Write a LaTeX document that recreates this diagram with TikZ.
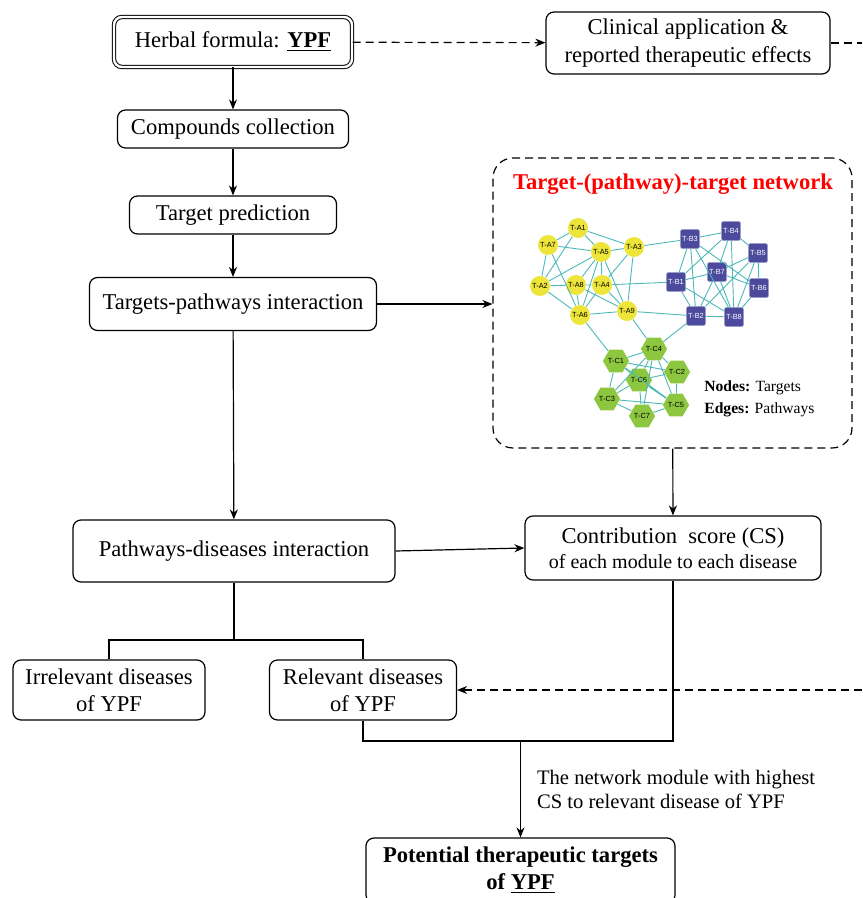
\documentclass[tikz,border=0pt]{standalone}
\usepackage{fontspec}
\setmainfont{Liberation Serif}
\newfontfamily\netfont{Liberation Sans}
\usetikzlibrary{arrows.meta, positioning, shapes.geometric}
\definecolor{netedge}{HTML}{4DB8B8}
\definecolor{ayel}{HTML}{EDE53A}
\definecolor{bblue}{HTML}{4B4A9C}
\definecolor{cgreen}{HTML}{8DC63F}
\definecolor{titlered}{HTML}{FF0000}

\begin{document}
\begin{tikzpicture}[x=0.5pt, y=-0.5pt,
      box/.style={draw, rounded corners=4pt, line width=0.6pt, align=center,
                  inner sep=1pt, font=\fontsize{11.3}{13.6}\selectfont},
      arr/.style={-{Stealth[length=5pt, width=4pt]}, line width=0.6pt},
      darr/.style={arr, dash pattern=on 4pt off 2.5pt},
      edge/.style={netedge, line width=0.45pt},
      ta/.style={circle, fill=ayel, minimum size=10pt, inner sep=0pt,
                 font=\netfont\fontsize{3.7}{4}\selectfont},
      tb/.style={rectangle, rounded corners=1pt, fill=bblue, draw=bblue!55!white,
                 line width=0.3pt, minimum size=9.5pt, inner sep=0pt, text=white,
                 font=\netfont\fontsize{3.7}{4}\selectfont},
      tc/.style={regular polygon, regular polygon sides=6, fill=cgreen,
                 minimum size=11.5pt, inner sep=0pt,
                 font=\netfont\fontsize{3.7}{4}\selectfont}]
    \useasboundingbox (0,0) rectangle (862,898);

    % main flow
    \node[box, double, line width=0.5pt, double distance=1.2pt,
          minimum width=119pt, minimum height=25pt] (herbal) at (233,42)
          {Herbal formula: \underline{\textbf{YPF}}};
    \node[box, minimum width=142pt, minimum height=31pt] (clin) at (688,43)
          {Clinical application \&\\reported therapeutic effects};
    \node[box, minimum width=115.5pt, minimum height=19pt] (comp) at (233,129)
          {Compounds collection};
    \node[box, minimum width=103.5pt, minimum height=19pt] (pred) at (233,215)
          {Target prediction};
    \node[box, minimum width=143.5pt, minimum height=26.5pt] (tpi) at (233,304)
          {Targets-pathways interaction};
    \node[box, minimum width=161pt, minimum height=31pt] (pdi) at (234,551)
          {Pathways-diseases interaction};
    \node[box, minimum width=148pt, minimum height=32pt] (cs) at (673,548)
          {Contribution~ score (CS)\\[-1pt]{\fontsize{10}{12}\selectfont of each module to each disease}};
    \node[box, minimum width=96pt, minimum height=30pt] (irr) at (109,690)
          {Irrelevant diseases\\of YPF};
    \node[box, minimum width=93.5pt, minimum height=30pt] (rel) at (363,690)
          {Relevant diseases\\of YPF};
    \node[box, minimum width=154.5pt, minimum height=32.5pt] (pot) at (520.5,870.5)
          {\textbf{Potential therapeutic targets}\\\textbf{of \underline{YPF}}};

    % network module box
    \node[draw, rounded corners=10pt, line width=0.6pt, dash pattern=on 4pt off 2.5pt,
          minimum width=179.5pt, minimum height=145pt] (net) at (672.5,303) {};
    \node[text=titlered, font=\bfseries\fontsize{11.3}{12}\selectfont] (nettitle) at (673,184)
          {Target-(pathway)-target network};
    \node[anchor=west, align=left, inner sep=0pt, font=\fontsize{7.8}{11}\selectfont] (legend) at (704,399)
          {\textbf{Nodes:} Targets\\\textbf{Edges:} Pathways};

    \node[ta] (a1) at (578,228) {T-A1};
    \node[ta] (a7) at (548,245) {T-A7};
    \node[ta] (a5) at (601,252) {T-A5};
    \node[ta] (a3) at (634,247) {T-A3};
    \node[ta] (a2) at (540,286) {T-A2};
    \node[ta] (a8) at (576,285) {T-A8};
    \node[ta] (a4) at (602,285) {T-A4};
    \node[ta] (a9) at (627,311) {T-A9};
    \node[ta] (a6) at (580,315) {T-A6};

    \node[tb] (b3) at (690,239) {T-B3};
    \node[tb] (b4) at (731,231) {T-B4};
    \node[tb] (b5) at (758,253) {T-B5};
    \node[tb] (b7) at (717,272) {T-B7};
    \node[tb] (b1) at (676,282) {T-B1};
    \node[tb] (b6) at (759,288) {T-B6};
    \node[tb] (b2) at (696,316) {T-B2};
    \node[tb] (b8) at (734,317) {T-B8};

    \node[tc] (c4) at (654,349) {T-C4};
    \node[tc] (c1) at (616,361) {T-C1};
    \node[tc] (c2) at (677,372) {T-C2};
    \node[tc] (c6) at (639,380) {T-C6};
    \node[tc] (c3) at (607,399) {T-C3};
    \node[tc] (c5) at (676,405) {T-C5};
    \node[tc] (c7) at (642,416) {T-C7};

    % network edges
    \draw[edge] (a1)--(a7) (a1)--(a5) (a1)--(a3) (a1)--(a2) (a7)--(a5) (a7)--(a2) (a7)--(a6)
          (a5)--(a3) (a5)--(a2) (a5)--(a8) (a5)--(a4) (a5)--(a6) (a5)--(a9) (a3)--(a4)
          (a3)--(a9) (a2)--(a8) (a2)--(a6) (a8)--(a4) (a8)--(a6) (a8)--(a9) (a4)--(a6)
          (a4)--(a9) (a6)--(a9);
    \draw[edge] (b3)--(b4) (b3)--(b1) (b3)--(b2) (b3)--(b8) (b3)--(b6) (b4)--(b7) (b4)--(b5)
          (b4)--(b1) (b4)--(b8) (b5)--(b7) (b5)--(b6) (b5)--(b2) (b5)--(b8) (b7)--(b1)
          (b7)--(b6) (b7)--(b2) (b7)--(b8) (b1)--(b2) (b1)--(b8) (b6)--(b8) (b2)--(b8);
    \draw[edge] (c4)--(c1) (c4)--(c2) (c4)--(c6) (c4)--(c3) (c4)--(c5) (c4)--(c7) (c1)--(c2)
          (c1)--(c3) (c1)--(c6) (c1)--(c5) (c2)--(c6) (c2)--(c5) (c6)--(c3) (c6)--(c7)
          (c6)--(c5) (c3)--(c7) (c3)--(c5) (c7)--(c5);
    \draw[edge] (a3)--(b3) (a4)--(b1) (a9)--(b2) (a9)--(c4) (a6)--(c1) (b2)--(c4);

    % connectors
    \coordinate (clinout) at (862,43);
    \coordinate (relin) at (862,690);
    \coordinate (split) at (234,640);
    \coordinate (join) at (520.5,741);
    \draw[darr] (herbal) -- (clin);
    \draw[line width=0.6pt, dash pattern=on 4pt off 2.5pt] (clin) -- (clinout);
    \draw[darr] (relin) -- (rel);
    \draw[arr] (herbal) -- (comp);
    \draw[arr] (comp) -- (pred);
    \draw[arr] (pred) -- (tpi);
    \draw[arr] (tpi.east) -- (net.west |- tpi.east);
    \draw[arr] (tpi) -- (pdi);
    \draw[arr] (net) -- (cs);
    \draw[arr] (pdi.east) -- (cs.west);
    \draw[line width=0.6pt] (pdi) -- (split);
    \draw[line width=0.6pt] (irr.north) |- (split) -| (rel.north);
    \draw[line width=0.6pt] (rel.south) |- (join) -| (cs.south);
    \draw[arr] (join) -- node[anchor=west, align=left, inner sep=0pt, xshift=8pt,
          font=\fontsize{10.3}{12}\selectfont] (modlabel)
          {The network module with highest\\CS to relevant disease of YPF} (pot);
  \end{tikzpicture}
\end{document}
